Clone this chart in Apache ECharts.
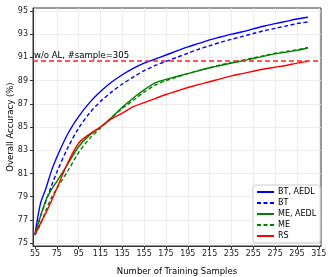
<!DOCTYPE html>
<html><head><meta charset="utf-8">
<script src="https://cdn.jsdelivr.net/npm/echarts@6/dist/echarts.min.js"></script>
<style>html,body{margin:0;padding:0;background:#fff}#c{width:332px;height:277px}</style>
</head><body><div id="c"></div>
<script>
const samples = [55,60,65,70,75,85,95,105,115,125,135,145,155,165,175,185,195,205,215,225,235,245,255,265,275,285,295,305];
const btAedl = [75.7,78.4,79.7,81.2,82.4,84.4,85.9,87.1,88.05,88.85,89.5,90.05,90.5,90.85,91.2,91.55,91.9,92.2,92.5,92.75,93.0,93.2,93.45,93.7,93.9,94.1,94.3,94.45];
const bt = [75.7,77.3,78.6,79.9,81.1,83.2,84.9,86.2,87.2,88.0,88.7,89.3,89.85,90.3,90.65,91.0,91.35,91.7,92.0,92.3,92.55,92.8,93.05,93.3,93.5,93.7,93.9,94.05];
const meAedl = [75.7,77.3,78.7,79.6,80.3,81.8,83.3,84.3,85.0,85.8,86.7,87.5,88.2,88.8,89.1,89.35,89.6,89.85,90.1,90.3,90.5,90.7,90.9,91.1,91.3,91.45,91.6,91.8];
const me = [75.7,76.6,77.8,78.9,79.7,81.2,82.8,84.0,84.9,85.8,86.6,87.3,88.0,88.6,89.0,89.3,89.6,89.85,90.1,90.35,90.55,90.75,90.95,91.15,91.35,91.5,91.65,91.85];
const rs = [75.7,76.7,77.6,78.6,79.7,81.9,83.6,84.4,85.0,85.7,86.2,86.75,87.1,87.45,87.8,88.1,88.4,88.65,88.9,89.15,89.4,89.6,89.8,90.0,90.15,90.3,90.5,90.65];
const baselineAcc = 90.7;
const baselineLabel = 'w/o AL, #sample=305';
const xTicks = [55,75,95,115,135,155,175,195,215,235,255,275,295,315];
const yTicks = [75,77,79,81,83,85,87,89,91,93,95];
const seriesNames = ['BT, AEDL','BT','ME, AEDL','ME','RS'];

const font = 'DejaVu Sans';
function pairs(arr){ return samples.map((s,i)=>[s,arr[i]]); }
function mk(name, data, color, dashed){
  return {name, type:'line', data:pairs(data), symbol:'circle', symbolSize:0, showSymbol:false, smooth:0.3,
    lineStyle:{color, width:1.4, type: dashed ? [4,2.5] : 'solid'},
    itemStyle:{color}, z: 3};
}
const s = [
  mk(seriesNames[0], btAedl, '#0000ff', false),
  mk(seriesNames[1], bt, '#0000ff', true),
  mk(seriesNames[2], meAedl, '#008000', false),
  mk(seriesNames[3], me, '#008000', true),
  mk(seriesNames[4], rs, '#ff0000', false)
];
s[4].markLine = {silent:true, symbol:['none','none'],
  lineStyle:{color:'#ff2020', type:[5,3], width:1.5},
  label:{show:true, position:'insideStartTop', formatter:baselineLabel, color:'#000', fontFamily:font, fontSize:8.5, distance:[1,0.5], padding:0},
  data:[{yAxis:baselineAcc}]};

const chart = echarts.init(document.getElementById('c'), null, {renderer:'canvas'});
chart.setOption({
  animation:false,
  grid:{left:33, right:11, top:8, bottom:31, show:true, borderColor:'#333', borderWidth:1, containLabel:false, outerBoundsMode:'none'},
  xAxis:{type:'value', min:53.2, max:317,
    name:'Number of Training Samples', nameLocation:'middle', nameGap:21, nameMoveOverlap:false,
    nameTextStyle:{fontFamily:font, fontSize:8.5, color:'#000'},
    axisLine:{lineStyle:{color:'#333', width:1}},
    axisTick:{show:true, length:3, inside:false, customValues:xTicks, lineStyle:{color:'#333'}},
    axisLabel:{customValues:xTicks, fontFamily:font, fontSize:8, color:'#222', margin:4},
    splitLine:{show:true, lineStyle:{color:'#e8e8e8', width:0.8}}},
  yAxis:{type:'value', min:74.75, max:95.25,
    name:'Overall Accuracy (%)', nameLocation:'middle', nameGap:18, nameRotate:90, nameMoveOverlap:false,
    nameTextStyle:{fontFamily:font, fontSize:8.5, color:'#000'},
    axisLine:{show:true, lineStyle:{color:'#333', width:1}},
    axisTick:{show:true, length:3, customValues:yTicks, lineStyle:{color:'#333'}},
    axisLabel:{customValues:yTicks, fontFamily:font, fontSize:8, color:'#222', margin:5},
    splitLine:{show:true, lineStyle:{color:'#e8e8e8', width:0.8}}},
  legend:{data:seriesNames, orient:'vertical', left:253, top:185, itemWidth:17, itemHeight:8, itemGap:3,
    padding:[3,4,3,3], backgroundColor:'#fff', borderColor:'#ccc', borderWidth:1, borderRadius:3,
    itemStyle:{opacity:0},
    textStyle:{fontFamily:font, fontSize:8, color:'#000', padding:[0,0,0,-1]}},
  series:s
});
</script></body></html>
